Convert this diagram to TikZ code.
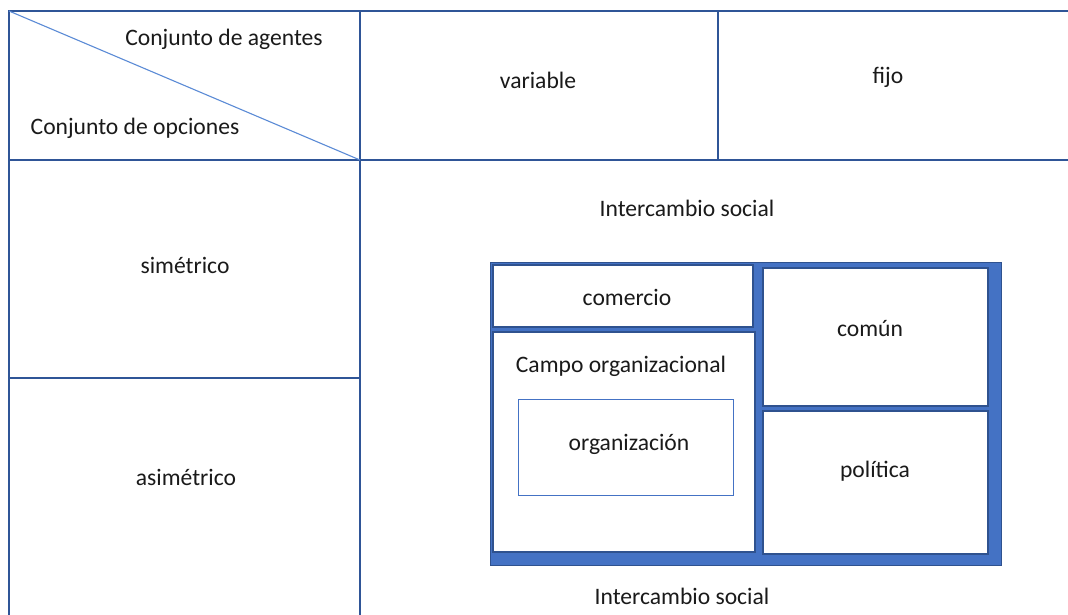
\documentclass[tikz,border=0pt]{standalone}
\usepackage{fontspec}
\setmainfont{Carlito}
\definecolor{gridblue}{RGB}{47,85,151}
\definecolor{lightblue}{RGB}{68,114,196}
\definecolor{diagblue}{RGB}{91,139,214}
\definecolor{darkblue}{RGB}{47,82,143}
\definecolor{txt}{RGB}{26,26,26}
\begin{document}
\begin{tikzpicture}[x=1pt,y=-1pt,
  cell/.style={draw=gridblue, line width=1.6pt, anchor=north west, inner sep=0pt, outer sep=0pt},
  inbox/.style={draw=darkblue, line width=1.2pt, fill=white, anchor=north west, inner sep=0pt, outer sep=0pt},
  lbl/.style={text=txt, font=\fontsize{23.6}{28}\selectfont, inner sep=0pt}]
\useasboundingbox[fill=white] (0,0) rectangle (1068,614);
% table cells
\node[cell, minimum width=351pt, minimum height=149pt] (corner) at (9,11) {};
\node[cell, minimum width=358pt, minimum height=149pt] (hvar) at (360,11) {};
\node[cell, minimum width=360pt, minimum height=149pt] (hfix) at (718,11) {};
\node[cell, minimum width=351pt, minimum height=218pt] (sym) at (9,160) {};
\node[cell, minimum width=351pt, minimum height=250pt] (asym) at (9,378) {};
\node[cell, minimum width=720pt, minimum height=470pt] (body) at (360,160) {};
\draw[diagblue, line width=1.1pt] (corner.north west) -- (corner.south east);
% labels
\node[lbl] (agentes) at (224,39) {Conjunto de agentes};
\node[lbl] (opciones) at (135,128) {Conjunto de opciones};
\node[lbl] (tvar) at (538,80) {variable};
\node[lbl] (tfix) at (888,77) {fijo};
\node[lbl] (tsym) at (185,265) {simétrico};
\node[lbl] (tasym) at (186,477) {asimétrico};
\node[lbl] (inter1) at (687,208) {Intercambio social};
\node[lbl] (inter2) at (682,596) {Intercambio social};
% blue block
\node[draw=darkblue, fill=lightblue, line width=1.2pt, anchor=north west, inner sep=0pt,
      minimum width=511pt, minimum height=303pt] (outer) at (490,262) {};
\node[inbox, minimum width=260pt, minimum height=62pt] (comercio) at (493,265) {};
\node[inbox, minimum width=262pt, minimum height=220pt] (campo) at (493,332) {};
\node[inbox, minimum width=225pt, minimum height=138pt] (comun) at (763,268) {};
\node[inbox, minimum width=225pt, minimum height=143pt] (politica) at (763,411) {};
\node[draw=lightblue, line width=1.3pt, fill=white, anchor=north west, inner sep=0pt,
      minimum width=215pt, minimum height=96pt] (org) at (518,399) {};
\node[lbl] (tcom) at (627,297) {comercio};
\node[lbl] (tcampo) at (621,366) {Campo organizacional};
\node[lbl] (torg) at (629,444) {organización};
\node[lbl] (tcomun) at (870,329) {común};
\node[lbl] (tpol) at (875,471) {política};
\end{tikzpicture}
\end{document}
